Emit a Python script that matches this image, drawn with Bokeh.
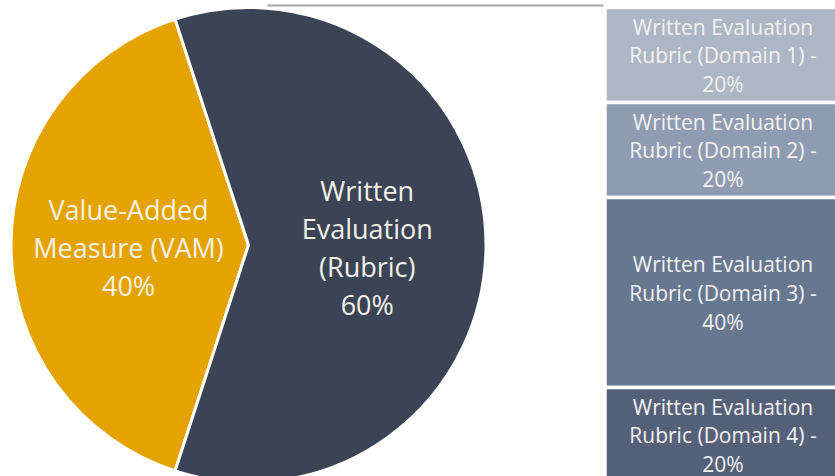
import numpy as np
from bokeh.plotting import figure
from bokeh.models import Range1d, ColumnDataSource
from bokeh.core.properties import value
from bokeh.embed import file_html
from bokeh.resources import INLINE

# ---- data ----
pie_labels = ["Value-Added\nMeasure (VAM)\n40%", "Written\nEvaluation\n(Rubric)\n60%"]
pie_values = [40, 60]
pie_colors = ["#E4A300", "#3B4454"]

bar_labels = [
    "Written Evaluation\nRubric (Domain 1) -\n20%",
    "Written Evaluation\nRubric (Domain 2) -\n20%",
    "Written Evaluation\nRubric (Domain 3) -\n40%",
    "Written Evaluation\nRubric (Domain 4) -\n20%",
]
bar_values = [20, 20, 40, 20]
bar_colors = ["#ADB6C4", "#8F9BB0", "#67778F", "#556178"]

# ---- layout constants ----
W, H = 835, 476
cx, cy, r = 248, H - 244.5, 237.5

p = figure(width=W, height=H, x_range=Range1d(0, W), y_range=Range1d(0, H),
           output_backend="svg", toolbar_location=None,
           x_axis_type=None, y_axis_type=None, min_border=0,
           outline_line_color=None)
p.grid.visible = False
p.background_fill_color = "white"

# pie: first slice centred on the left (180 deg)
vals = np.array(pie_values, dtype=float)
frac = vals / vals.sum()
start0 = np.pi - frac[0] * np.pi
starts = start0 + np.concatenate([[0], np.cumsum(frac)[:-1]]) * 2 * np.pi
ends = start0 + np.cumsum(frac) * 2 * np.pi
pie_src = ColumnDataSource(dict(start=starts, end=ends, color=pie_colors))
p.wedge(x=cx, y=cy, radius=r, start_angle="start", end_angle="end",
        fill_color="color", line_color="white", line_width=3, source=pie_src)

# pie labels
mid = (starts + ends) / 2
lab_r = np.array([0.505, 0.50]) * r
lx = cx + lab_r * np.cos(mid)
ly = cy + lab_r * np.sin(mid) - 2.5
p.text(x=lx, y=ly, text=pie_labels, text_color="#F4F1EA",
       text_font=value("Open Sans"), text_font_size="27px",
       text_align="center", text_baseline="middle", text_line_height=1.035)

# bar of pie: stacked bar with total height equal to pie diameter
bv = np.array(bar_values, dtype=float)
bfrac = bv / bv.sum()
top_edge = cy + r
tops = top_edge - np.concatenate([[0], np.cumsum(bfrac)[:-1]]) * 2 * r
bottoms = top_edge - np.cumsum(bfrac) * 2 * r
bx0, bx1 = 604.5, 850
bar_src = ColumnDataSource(dict(top=tops, bottom=bottoms, color=bar_colors))
p.quad(left=bx0, right=bx1, top="top", bottom="bottom", fill_color="color",
       line_color="white", line_width=3.5, source=bar_src)
p.text(x=[722.5] * len(bar_labels), y=(tops + bottoms) / 2 - 0.5,
       text=bar_labels, text_color="#F2F2F2",
       text_font=value("Open Sans"), text_font_size="21px",
       text_align="center", text_baseline="middle", text_line_height=1.03)

# connector line from the pie top to the bar
p.line(x=[267, 603], y=[H - 5, H - 5], line_color="#A6A6A6", line_width=2)

open("out.html", "w").write(file_html(p, INLINE))
